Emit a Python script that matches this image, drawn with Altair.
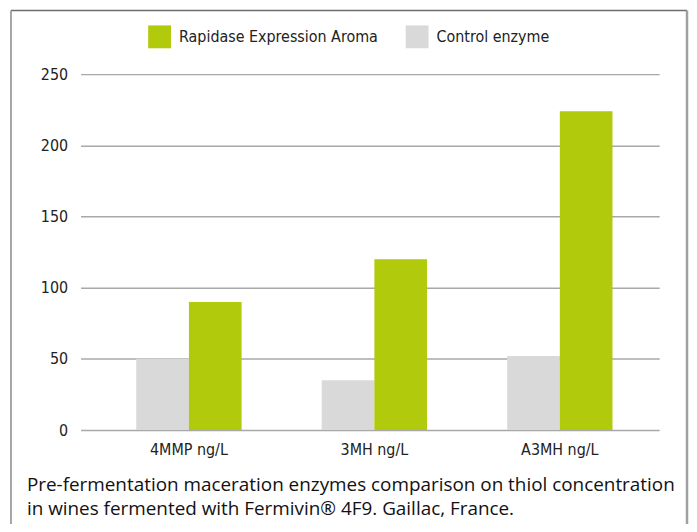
import altair as alt
import pandas as pd

categories = ["4MMP ng/L", "3MH ng/L", "A3MH ng/L"]
series = ["Control enzyme", "Rapidase Expression Aroma"]
control_values = [50, 35, 52]
rapidase_values = [90, 120, 224]
y_ticks = [0, 50, 100, 150, 200, 250]
caption = [
    "Pre-fermentation maceration enzymes comparison on thiol concentration",
    "in wines fermented with Fermivin\u00ae 4F9. Gaillac, France.",
]

rows = []
for c, v in zip(categories, control_values):
    rows.append({"cat": c, "series": series[0], "value": v})
for c, v in zip(categories, rapidase_values):
    rows.append({"cat": c, "series": series[1], "value": v})
df = pd.DataFrame(rows)

COND = "DejaVu Sans Condensed, sans-serif"
GREEN = "#b1ca0b"
GREY = "#d9d9d9"

bars = alt.Chart(df).mark_bar().encode(
    x=alt.X("cat:N", sort=categories, title=None,
            scale=alt.Scale(paddingInner=0.432, paddingOuter=0.276, align=0.544),
            axis=alt.Axis(labelAngle=0, ticks=False, domain=False, labelFont=COND,
                          labelFontSize=16, labelColor="#222", labelPadding=12, grid=False)),
    xOffset=alt.XOffset("series:N", sort=series,
                        scale=alt.Scale(paddingInner=0, paddingOuter=0)),
    y=alt.Y("value:Q", title=None,
            scale=alt.Scale(domain=[0, 250], nice=False),
            axis=alt.Axis(values=y_ticks, ticks=False, domain=False, labelFont=COND,
                          labelFontSize=16, labelColor="#222", labelPadding=13,
                          gridColor="#a8a8a8", gridWidth=1.5)),
    color=alt.Color("series:N",
                    scale=alt.Scale(domain=["Rapidase Expression Aroma", "Control enzyme"],
                                    range=[GREEN, GREY]),
                    legend=alt.Legend(title=None, orient="none", direction="horizontal",
                                      legendX=68, legendY=-49, padding=0,
                                      symbolType="square", symbolSize=529,
                                      symbolStrokeWidth=0, labelFont=COND,
                                      labelFontSize=16, labelColor="#222", labelLimit=0,
                                      labelOffset=8, columnPadding=27)),
)

cap_df = pd.DataFrame({"text": ["\n".join(caption)]})
caption_text = alt.Chart(cap_df).mark_text(
    align="left", baseline="top", lineBreak="\n", lineHeight=24,
    font="Open Sans", fontSize=19, color="#111",
).encode(x=alt.value(-54), y=alt.value(404), text="text:N")

frame = alt.Data(values=[{}])
top_rule = alt.Chart(frame).mark_rule(color="#6e6e6e", strokeWidth=1.5).encode(
    x=alt.value(-70), x2=alt.value(610), y=alt.value(-64))
left_rule = alt.Chart(frame).mark_rule(color="#8a8a8a", strokeWidth=1.5).encode(
    x=alt.value(-70), y=alt.value(-64), y2=alt.value(470))
right_rule = alt.Chart(frame).mark_rule(color="#a0a0a0", strokeWidth=2.5).encode(
    x=alt.value(610), y=alt.value(-64), y2=alt.value(470))

chart = alt.layer(bars, caption_text, top_rule, left_rule, right_rule).properties(
    width=582, height=358,
    autosize=alt.AutoSizeParams(type="none"),
    padding={"left": 73, "top": 65, "right": 30, "bottom": 93},
).configure_view(stroke=None)

chart.save("out.html", embed_options={"renderer": "svg", "actions": False})
